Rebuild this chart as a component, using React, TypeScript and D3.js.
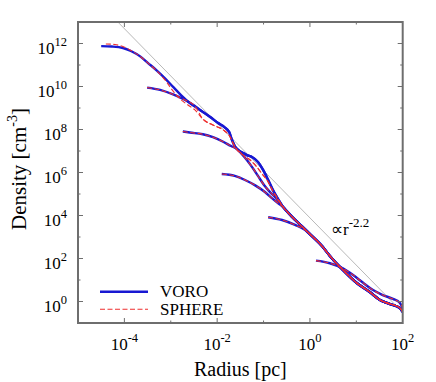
import React, { useEffect, useRef } from 'react';
import * as d3 from 'd3';

// [log10 radius (pc), log10 density (cm^-3)]
type Pt = [number, number];

// innermost profile (the two methods drift apart a little here)
const voroCore1: Pt[] = [
  [-4.5, 11.88], [-4.27, 11.86], [-4.03, 11.79], [-3.86, 11.65], [-3.66, 11.4],
  [-3.49, 11.09], [-3.3, 10.74], [-3.12, 10.37], [-2.95, 9.98], [-2.78, 9.6],
  [-2.59, 9.23], [-2.37, 8.91], [-2.15, 8.58], [-1.98, 8.3], [-1.85, 8.12],
  [-1.74, 7.88], [-1.68, 7.51], [-1.62, 7.23],
];
const sphereCore1: Pt[] = [
  [-4.4, 11.98], [-4.2, 11.95], [-4.01, 11.84], [-3.84, 11.65], [-3.66, 11.4],
  [-3.49, 11.09], [-3.3, 10.72], [-3.12, 10.3], [-2.97, 9.84], [-2.8, 9.42],
  [-2.63, 9.14], [-2.48, 8.91], [-2.31, 8.49], [-2.09, 8.21], [-1.87, 7.98],
  [-1.72, 7.65], [-1.66, 7.37],
];

// outer profiles: flat core until they join the common envelope
const core2: Pt[] = [[-3.51, 9.95], [-3.23, 9.84], [-2.95, 9.63], [-2.69, 9.37], [-2.48, 9.09]];
const core3: Pt[] = [
  [-2.74, 7.91], [-2.59, 7.86], [-2.31, 7.78], [-2.09, 7.64], [-1.87, 7.43], [-1.7, 7.23],
  [-1.57, 7.09], [-1.47, 6.86], [-1.36, 6.58], [-1.25, 6.26], [-1.12, 5.84], [-0.99, 5.42],
  [-0.86, 5.09], [-0.73, 4.81],
];
const core4: Pt[] = [[-1.9, 5.93], [-1.62, 5.84], [-1.4, 5.65], [-1.18, 5.4], [-0.97, 5.09], [-0.82, 4.81], [-0.69, 4.58]];
const core5: Pt[] = [[-0.9, 3.92], [-0.6, 3.79], [-0.32, 3.56], [-0.11, 3.33], [-0.02, 3.16]];
const core6: Pt[] = [[0.13, 1.9], [0.43, 1.78], [0.71, 1.54], [0.93, 1.23], [1.14, 0.88], [1.36, 0.53]];

// shared envelope
const voroShoulder: Pt[] = [
  [-1.57, 7.09], [-1.44, 6.91], [-1.36, 6.81], [-1.25, 6.72], [-1.12, 6.49], [-1.01, 6.12],
  [-0.9, 5.65], [-0.8, 5.19], [-0.69, 4.77], [-0.58, 4.4],
];
const sphereShoulder: Pt[] = [
  [-1.57, 7.05], [-1.44, 6.81], [-1.29, 6.58], [-1.16, 6.3], [-1.03, 5.93], [-0.9, 5.56],
  [-0.8, 5.14], [-0.69, 4.77], [-0.58, 4.4],
];
const outerSlope: Pt[] = [
  [-0.39, 3.95], [-0.17, 3.49], [0.04, 3.05], [0.26, 2.58], [0.43, 2.12], [0.71, 1.47],
  [1.01, 0.86], [1.29, 0.44],
];
const endUpper: Pt[] = [[1.57, 0.3], [1.79, 0.12], [1.94, -0.07], [2.0, -0.3]];
const endLower: Pt[] = [[1.51, 0.07], [1.73, -0.12], [1.94, -0.3], [2.0, -0.49]];

const xLabelExps = [-4, -2, 0, 2];
const xTickExps = [-4, -3, -2, -1, 0, 1];
const yLabelExps = [0, 2, 4, 6, 8, 10, 12];
const yTickExps = [0, 1, 2, 3, 4, 5, 6, 7, 8, 9, 10, 11, 12];
const legendNames = ['VORO', 'SPHERE'];
const slopeIndex = -2.2;
const slopeLogNorm = 3.89; // log10 of the prefactor of the r^-2.2 guide line

const BLUE = '#1818d2';
const RED = '#ee2f2f';
const FONT = '"Liberation Serif", "Times New Roman", serif';

const joinProfile = (core: Pt[], trunk: Pt[], end: Pt[]): Pt[] => {
  const last = core[core.length - 1][0];
  return [...core, ...trunk.filter(p => p[0] > last + 0.04), ...end];
};

const App = () => {
  const ref = useRef<SVGSVGElement>(null);

  useEffect(() => {
    const svg = d3.select(ref.current);
    svg.selectAll('*').remove();

    const left = 78, right = 402.7, top = 22, bottom = 323;
    const x = d3.scaleLog().domain([1e-5, 1e2]).range([left, right]);
    const y = d3.scaleLog().domain([1e-1, 1e13]).range([bottom, top]);

    const voroTrunk = [...voroCore1, ...voroShoulder, ...outerSlope];
    const sphereTrunk = [...sphereCore1, ...sphereShoulder, ...outerSlope];

    const voro = [
      joinProfile(voroCore1, voroTrunk, endLower),
      joinProfile(core2, voroTrunk, endLower),
      joinProfile(core3, voroTrunk, endLower),
      joinProfile(core4, voroTrunk, endLower),
      joinProfile(core5, voroTrunk, endLower),
      joinProfile(core6, [], endUpper),
    ];
    const sphere = [
      joinProfile(sphereCore1, sphereTrunk, endLower),
      joinProfile(core2, sphereTrunk, endLower),
      joinProfile(core3, sphereTrunk, endLower),
      joinProfile(core4, sphereTrunk, endLower),
      joinProfile(core5, sphereTrunk, endLower),
      joinProfile(core6, [], endUpper),
    ];

    svg.append('defs').append('clipPath').attr('id', 'plot-clip')
      .append('rect')
      .attr('x', left).attr('y', top)
      .attr('width', right - left).attr('height', bottom - top);

    const plot = svg.append('g').attr('clip-path', 'url(#plot-clip)');

    // r^-2.2 guide
    const r0 = Math.pow(10, (13 - slopeLogNorm) / slopeIndex);
    const guide: [number, number][] = [r0, 1e2].map(r => [r, Math.pow(10, slopeLogNorm) * Math.pow(r, slopeIndex)]);
    plot.append('path')
      .attr('d', d3.line<[number, number]>().x(d => x(d[0])).y(d => y(d[1]))(guide))
      .attr('fill', 'none')
      .attr('stroke', '#9a9a9a')
      .attr('stroke-width', 0.7);

    const line = d3.line<Pt>()
      .x(d => x(Math.pow(10, d[0])))
      .y(d => y(Math.pow(10, d[1])))
      .curve(d3.curveMonotoneX);

    plot.selectAll('path.voro')
      .data(voro)
      .enter()
      .append('path')
        .attr('class', 'voro')
        .attr('d', d => line(d))
        .attr('fill', 'none')
        .attr('stroke', BLUE)
        .attr('stroke-width', 2.4)
        .attr('stroke-linejoin', 'round');

    plot.selectAll('path.sphere')
      .data(sphere)
      .enter()
      .append('path')
        .attr('class', 'sphere')
        .attr('d', d => line(d))
        .attr('fill', 'none')
        .attr('stroke', RED)
        .attr('stroke-width', 1.1)
        .attr('stroke-dasharray', '5,2.5');

    // ticks on all four sides, pointing in
    const ticks = svg.append('g').attr('stroke', '#6e6e6e').attr('stroke-width', 1);
    xTickExps.forEach(e => {
      const len = e % 2 === 0 ? 5 : 2.5;
      const px = x(Math.pow(10, e));
      ticks.append('line').attr('x1', px).attr('x2', px).attr('y1', bottom).attr('y2', bottom - len);
      ticks.append('line').attr('x1', px).attr('x2', px).attr('y1', top).attr('y2', top + len);
    });
    yTickExps.forEach(e => {
      const len = e % 2 === 0 ? 5 : 2.5;
      const py = y(Math.pow(10, e));
      ticks.append('line').attr('x1', left).attr('x2', left + len).attr('y1', py).attr('y2', py);
      ticks.append('line').attr('x1', right).attr('x2', right - len).attr('y1', py).attr('y2', py);
    });

    svg.append('rect')
      .attr('x', left).attr('y', top)
      .attr('width', right - left).attr('height', bottom - top)
      .attr('fill', 'none')
      .attr('stroke', '#6e6e6e')
      .attr('stroke-width', 2);

    const fmt = (e: number) => (e < 0 ? `-${-e}` : `${e}`);

    xLabelExps.forEach(e => {
      const t = svg.append('text')
        .attr('x', x(Math.pow(10, e)))
        .attr('y', 350)
        .attr('text-anchor', 'middle')
        .style('font-family', FONT)
        .style('font-size', '17px');
      t.append('tspan').text('10');
      t.append('tspan').attr('dy', -8).style('font-size', '12.5px').text(fmt(e));
    });

    yLabelExps.forEach(e => {
      const t = svg.append('text')
        .attr('x', 67)
        .attr('y', y(Math.pow(10, e)) + 10)
        .attr('text-anchor', 'end')
        .style('font-family', FONT)
        .style('font-size', '17px');
      t.append('tspan').text('10');
      t.append('tspan').attr('dy', -8).style('font-size', '12.5px').text(fmt(e));
    });

    // axis titles
    svg.append('text')
      .attr('x', (left + right) / 2)
      .attr('y', 376)
      .attr('text-anchor', 'middle')
      .style('font-family', FONT)
      .style('font-size', '20px')
      .text('Radius [pc]');

    const yt = svg.append('text')
      .attr('transform', 'translate(26,169) rotate(-90)')
      .attr('text-anchor', 'middle')
      .style('font-family', FONT)
      .style('font-size', '21px');
    yt.append('tspan').text('Density [cm');
    yt.append('tspan').attr('dy', -9).style('font-size', '14px').text('-3');
    yt.append('tspan').attr('dy', 9).text(']');

    // slope annotation
    const ann = svg.append('text')
      .attr('x', 331)
      .attr('y', 235)
      .style('font-family', FONT)
      .style('font-size', '17px');
    ann.append('tspan').text('\u221Dr');
    ann.append('tspan').attr('dy', -8).style('font-size', '13px').text(`${slopeIndex}`);

    // legend
    const legend = svg.append('g');
    legendNames.forEach((name, i) => {
      const ly = 291.7 + i * 17.6;
      const sample = legend.append('line')
        .attr('x1', 100).attr('x2', 148)
        .attr('y1', ly).attr('y2', ly)
        .attr('fill', 'none')
        .attr('stroke', i === 0 ? BLUE : RED)
        .attr('stroke-width', i === 0 ? 2.4 : 1.1);
      if (i === 1) sample.attr('stroke-dasharray', '5,2.5');
      legend.append('text')
        .attr('x', 160)
        .attr('y', 291.5 + i * 18 + 5.5)
        .style('font-family', FONT)
        .style('font-size', '17px')
        .text(name);
    });
  }, []);

  return (
    <svg
      ref={ref}
      width={436}
      height={382}
      style={{ position: 'absolute', left: 0, top: 0, background: '#fff' }}
    />
  );
};

export default App;
